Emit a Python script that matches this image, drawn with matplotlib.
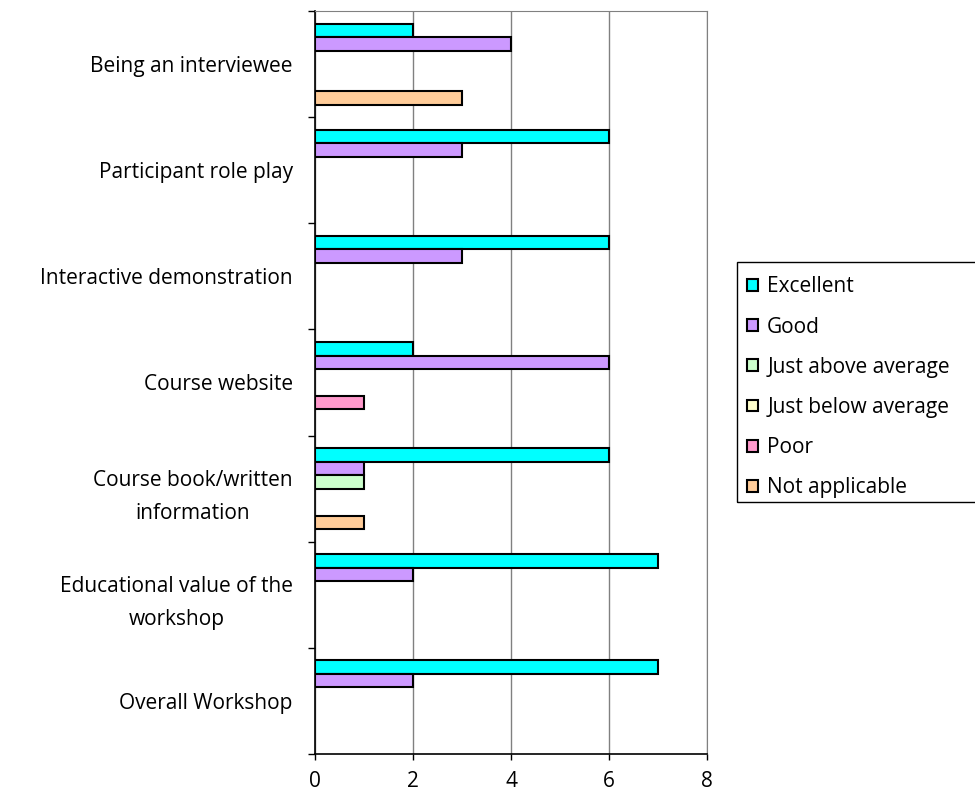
import numpy as np
from matplotlib import pyplot as plt
from matplotlib.patches import Patch, Rectangle

plt.rcParams['font.family'] = ['Open Sans', 'DejaVu Sans']

# categorias de abajo hacia arriba (orden de Excel)
categorias = ['Overall Workshop',
              'Educational value of the\nworkshop',
              'Course book/written\ninformation',
              'Course website',
              'Interactive demonstration',
              'Participant role play',
              'Being an interviewee']

series = ['Excellent', 'Good', 'Just above average',
          'Just below average', 'Poor', 'Not applicable']

excellent = [7, 7, 6, 2, 6, 6, 2]
good = [2, 2, 1, 6, 3, 3, 4]
just_above = [0, 0, 1, 0, 0, 0, 0]
just_below = [0, 0, 0, 0, 0, 0, 0]
poor = [0, 0, 0, 1, 0, 0, 0]
not_applicable = [0, 0, 1, 0, 0, 0, 3]

valores = [excellent, good, just_above, just_below, poor, not_applicable]
colores = ['#00FFFF', '#CC99FF', '#CCFFCC', '#FFFFCC', '#FF99CC', '#FFCC99']

fig = plt.figure(figsize=(9.75, 8.07), dpi=100)
ax = fig.add_axes([315 / 975, 1 - 754 / 807, (707 - 315) / 975, (754 - 11) / 807])

alto = 0.127
y = np.arange(len(categorias))

for j, (vals, color) in enumerate(zip(valores, colores)):
    vals = np.array(vals)
    pos = y + (2.5 - j) * alto
    mask = vals > 0
    if mask.any():
        ax.barh(pos[mask], vals[mask], height=alto, color=color,
                edgecolor='black', linewidth=1.5, zorder=3)

ax.set_xlim(0, 8)
ax.set_ylim(-0.5, len(categorias) - 0.5)
ax.set_xticks([0, 2, 4, 6, 8])
ax.set_yticks(y)
ax.set_yticklabels(categorias, fontsize=15, multialignment='center', linespacing=1.75)
ax.set_yticks(np.arange(-0.5, len(categorias)), minor=True)
ax.tick_params(axis='y', which='major', length=0, pad=16)
ax.tick_params(axis='y', which='minor', length=5, width=1, color='black')
ax.tick_params(axis='x', labelsize=15, length=4, width=1, pad=8)

ax.xaxis.grid(True, color='#808080', linewidth=1, zorder=0)
ax.set_axisbelow(True)
ax.spines['top'].set_color('#808080')
ax.spines['right'].set_color('#808080')
ax.spines['left'].set_linewidth(1.2)
ax.spines['bottom'].set_linewidth(1.2)

# leyenda sin marco, el marco se dibuja aparte (se corta en el borde derecho)
handles = [Patch(facecolor=c, edgecolor='black', linewidth=1.5) for c in colores]
leg = fig.legend(handles, series, loc='upper left',
                 bbox_to_anchor=(737 / 975, 1 - 266 / 807),
                 fontsize=15, frameon=False,
                 handlelength=0.5, handleheight=0.5, handletextpad=0.45,
                 labelspacing=0.92, borderpad=0.5, borderaxespad=0)
fig.patches.append(Rectangle((737 / 975, 1 - 502 / 807), 0.3, 240 / 807,
                             transform=fig.transFigure, fill=False,
                             edgecolor='black', linewidth=1))

plt.savefig('out.png', dpi=100)
